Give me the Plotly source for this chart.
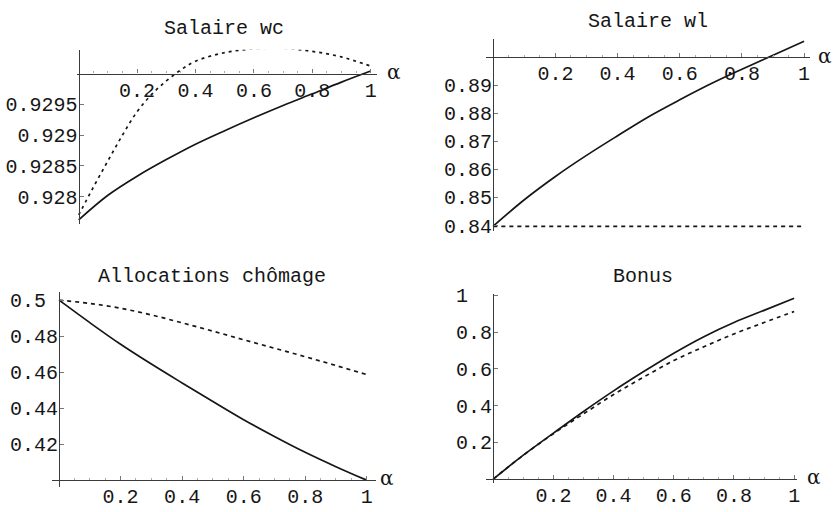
import plotly.graph_objects as go

W, H = 840, 512
FONT = "Liberation Mono"
INK = "#161616"
AXIS = "#3a3a3a"

# ---- data -------------------------------------------------------------
alpha = [0.0, 0.1, 0.2, 0.3, 0.4, 0.5, 0.6, 0.7, 0.8, 0.9, 1.0]

# Salaire wc
wc_solid = [0.92762, 0.92802, 0.92833, 0.92860, 0.92885, 0.92907,
            0.92928, 0.92948, 0.92967, 0.92986, 0.93004]
wc_dash_alpha = [0.0, 0.05, 0.1, 0.15, 0.2, 0.25, 0.3, 0.35, 0.4,
                 0.5, 0.6, 0.7, 0.8, 0.9, 1.0]
wc_dash = [0.92770, 0.92815, 0.92858, 0.92900, 0.92938, 0.92966, 0.92988,
           0.93006, 0.93020, 0.93034, 0.93040, 0.93041, 0.93036, 0.93027,
           0.93012]

# Salaire wl
wl_solid = [0.8398, 0.8492, 0.8575, 0.8650, 0.8720, 0.8788,
            0.8848, 0.8905, 0.8957, 0.9007, 0.9057]
wl_dash = [0.8397] * 11

# Allocations chômage
ub_solid = [0.5000, 0.4875, 0.4755, 0.4645, 0.4540, 0.4437,
            0.4336, 0.4243, 0.4155, 0.4075, 0.4000]
ub_dash = [0.5000, 0.4982, 0.4955, 0.4918, 0.4874, 0.4828,
           0.4780, 0.4733, 0.4686, 0.4637, 0.4587]

# Bonus
bo_solid = [0.000, 0.130, 0.250, 0.368, 0.480, 0.585,
            0.685, 0.775, 0.852, 0.918, 0.984]
bo_dash = [0.000, 0.130, 0.247, 0.355, 0.460, 0.555,
           0.645, 0.720, 0.790, 0.852, 0.912]

x_ticks = [0.2, 0.4, 0.6, 0.8, 1.0]
x_labels = ["0.2", "0.4", "0.6", "0.8", "1"]
NB = "\u00a0"

panels = [
    dict(title="Salaire wc",
         series=[(alpha, wc_solid, "solid"), (wc_dash_alpha, wc_dash, "3px,4px")],
         yticks=[0.928, 0.9285, 0.929, 0.9295],
         ylabels=["0.928", "0.9285", "0.929", "0.9295"],
         cross=0.93,
         # pixel geometry: x line left/right, alpha 0 & 1, y line top/bottom
         px=(77, 378, 79, 372), py=(43, 223), yref=((0.93, 67.5), (0.928, 194.2)),
         title_xy=(225, 21), alpha_xy=(395, 66)),
    dict(title="Salaire wl",
         series=[(alpha, wl_solid, "solid"), (alpha, wl_dash, "4px,4px")],
         yticks=[0.84, 0.85, 0.86, 0.87, 0.88, 0.89],
         ylabels=["0.84", "0.85", "0.86", "0.87", "0.88", "0.89"],
         cross=0.9,
         px=(488, 813, 495, 807), py=(31.7, 230), yref=((0.9, 50.7), (0.84, 224.1)),
         title_xy=(650, 14), alpha_xy=(828, 49)),
    dict(title="Allocations chômage",
         series=[(alpha, ub_solid, "solid"), (alpha, ub_dash, "4px,4px")],
         yticks=[0.42, 0.44, 0.46, 0.48, 0.5],
         ylabels=["0.42", "0.44", "0.46", "0.48", "0.5" + NB],
         cross=0.4,
         px=(52, 377, 59.3, 368), py=(292.7, 493), yref=((0.4, 486.4), (0.5, 301)),
         title_xy=(213, 277), alpha_xy=(388, 484)),
    dict(title="Bonus",
         series=[(alpha, bo_solid, "solid"), (alpha, bo_dash, "4px,4px")],
         yticks=[0.2, 0.4, 0.6, 0.8, 1.0],
         ylabels=["0.2", "0.4", "0.6", "0.8", "1" + NB + NB],
         cross=0.0,
         px=(488, 800, 495, 797), py=(294.3, 489.3), yref=((0.0, 485.3), (1.0, 296)),
         title_xy=(645, 277), alpha_xy=(817, 483)),
]

fig = go.Figure()
layout = dict(width=W, height=H, autosize=False,
              margin=dict(l=0, r=0, t=0, b=0),
              paper_bgcolor="white", plot_bgcolor="white",
              showlegend=False, annotations=[])

tickfont = dict(family=FONT, size=20, color=INK)

for i, p in enumerate(panels, start=1):
    xs = "" if i == 1 else str(i)
    xl, xr, a0, a1 = p["px"]
    per = (a1 - a0)
    x_range = [(xl - a0) / per, (xr - a0) / per]
    (v0, y0), (v1, y1) = p["yref"]
    ppv = (y0 - y1) / (v1 - v0)  # pixels per unit value (downward positive)
    yt, yb = p["py"]
    y_range = [v0 - (yb - y0) / ppv, v0 + (y0 - yt) / ppv]
    cross_px = y0 - (p["cross"] - v0) * ppv

    for xv, yv, dash in p["series"]:
        fig.add_trace(go.Scatter(
            x=xv, y=yv, mode="lines", xaxis="x" + xs, yaxis="y" + xs,
            line=dict(color=INK, width=1.7, dash=dash, shape="spline"),
            hoverinfo="skip"))

    layout["xaxis" + xs] = dict(
        domain=[xl / W, xr / W], range=x_range, anchor="free",
        position=1 - cross_px / H,
        showline=True, linecolor=AXIS, linewidth=1.2,
        showgrid=False, zeroline=False,
        tickmode="array", tickvals=x_ticks, ticktext=x_labels,
        ticks="inside", ticklen=4, tickwidth=1, tickcolor="#777",
        minor=dict(tickmode="array",
                   tickvals=[k / 20 for k in range(1, 21) if k % 4],
                   ticks="inside", ticklen=2, tickcolor="#aaa"),
        tickfont=tickfont, ticklabelstandoff=-2, fixedrange=True)
    layout["yaxis" + xs] = dict(
        domain=[1 - yb / H, 1 - yt / H], range=y_range, anchor="free",
        position=a0 / W, side="left",
        showline=True, linecolor=AXIS, linewidth=1.2,
        showgrid=False, zeroline=False,
        tickmode="array", tickvals=p["yticks"], ticktext=p["ylabels"],
        ticks="inside", ticklen=4, tickwidth=1, tickcolor="#777",
        tickfont=tickfont, ticklabelstandoff=-3, fixedrange=True)

    tx, ty = p["title_xy"]
    layout["annotations"].append(dict(
        text=p["title"], x=tx / W, y=1 - ty / H, xref="paper", yref="paper",
        xanchor="center", yanchor="middle", showarrow=False,
        font=dict(family=FONT, size=20, color=INK)))
    ax_, ay_ = p["alpha_xy"]
    layout["annotations"].append(dict(
        text="α", x=ax_ / W, y=1 - ay_ / H, xref="paper", yref="paper",
        xanchor="center", yanchor="middle", showarrow=False,
        font=dict(family="DejaVu Serif", size=20, color=INK)))

fig.update_layout(**layout)
fig.write_html("out.html")
